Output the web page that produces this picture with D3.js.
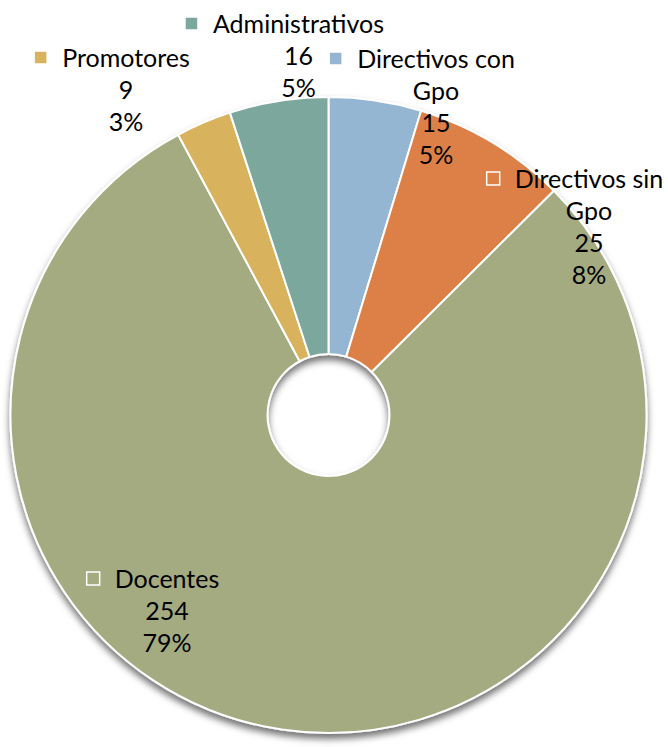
<!DOCTYPE html>
<html>
<head>
<meta charset="utf-8">
<script src="https://cdn.jsdelivr.net/npm/d3@7"></script>
<style>
  html, body { margin: 0; padding: 0; background: #fff; }
  #chart { width: 668px; height: 747px; }
  text { font-family: Lato, "Open Sans", sans-serif; fill: #000; }
</style>
</head>
<body>
<div id="chart"></div>
<script>
// --- DATA ---
const categories = ["Directivos con Gpo", "Directivos sin Gpo", "Docentes", "Promotores", "Administrativos"];
const values = [15, 25, 254, 9, 16];
const percentLabels = ["5%", "8%", "79%", "3%", "5%"];
// how each category name wraps in the label
const nameLines = [["Directivos con", "Gpo"], ["Directivos sin", "Gpo"], ["Docentes"], ["Promotores"], ["Administrativos"]];

// --- STYLE / LAYOUT ---
const colors = ["#94B6D2", "#DD8047", "#A5AB81", "#D8B25C", "#7BA79D"];
// label anchors (center x, first baseline y), placed like Excel's best fit
const labelAnchors = [[436, 68], [589, 188], [167, 588], [126, 67], [298.5, 33]];

const width = 668, height = 747;
const cx = 328.5, cy = 415;
const outerR = 318, innerR = 61;
const fontSize = 25, lineHeight = 32;

const svg = d3.select("#chart").append("svg")
    .attr("width", width)
    .attr("height", height);

// soft drop shadow under the ring
const defs = svg.append("defs");
const shadow = defs.append("filter")
    .attr("id", "shadow")
    .attr("x", "-10%").attr("y", "-10%")
    .attr("width", "120%").attr("height", "120%");
shadow.append("feDropShadow")
    .attr("dx", 0).attr("dy", 5)
    .attr("stdDeviation", 3.5)
    .attr("flood-color", "#000")
    .attr("flood-opacity", 0.55);

const pie = d3.pie().sort(null).value(d => d.value);
const arc = d3.arc().innerRadius(innerR).outerRadius(outerR);

const data = categories.map((c, i) => ({ name: c, value: values[i], i }));

const g = svg.append("g").attr("transform", `translate(${cx},${cy})`);

g.append("g")
    .attr("filter", "url(#shadow)")
    .selectAll("path")
    .data(pie(data))
    .enter().append("path")
    .attr("d", arc)
    .attr("fill", d => colors[d.data.i])
    .attr("stroke", "#fff")
    .attr("stroke-width", 2)
    .attr("stroke-linejoin", "round");

// --- LABELS ---
const labels = svg.append("g");
data.forEach((d, i) => {
    const [lx, ly] = labelAnchors[i];
    const lines = nameLines[i].concat([String(values[i]), percentLabels[i]]);
    const t = labels.append("text")
        .attr("text-anchor", "middle")
        .attr("font-size", fontSize);
    lines.forEach((line, k) => {
        t.append("tspan")
            .attr("x", lx)
            .attr("y", ly + k * lineHeight)
            .text(line);
    });
    // legend key left of the first line
    const first = t.select("tspan").node();
    const w = first.getComputedTextLength();
    const keySize = 13;
    labels.append("rect")
        .attr("x", lx - w / 2 - 15 - keySize)
        .attr("y", ly - 16)
        .attr("width", keySize)
        .attr("height", keySize)
        .attr("fill", colors[i])
        .attr("stroke", "#fff")
        .attr("stroke-width", 1.5);
});
</script>
</body>
</html>
